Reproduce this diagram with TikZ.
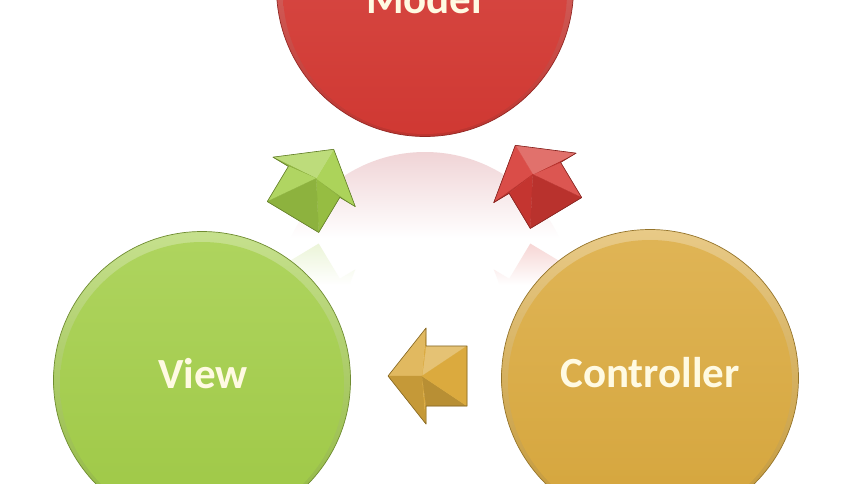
\documentclass[tikz,border=0pt]{standalone}
\usepackage{fontspec}
\setmainfont{Carlito}
\usetikzlibrary{calc}
\definecolor{mred}{RGB}{214,58,52}
\definecolor{mgreen}{RGB}{163,206,72}
\definecolor{mgold}{RGB}{219,170,62}
\definecolor{mtext}{RGB}{255,250,226}
\definecolor{mpink}{RGB}{240,212,214}

\newcommand\arrowoutline{(0,30) -- (41,30) -- (41,48) -- (79,0) -- (41,-48) -- (41,-30) -- (0,-30) -- cycle}

\newcommand\bevarrow[4]{%
 \begin{scope}[shift={(#1,#2)}, rotate=#3]
  \foreach \ax/\ay/\bx/\by/\al in {0/30/41/30/90, 41/30/41/48/180, 41/48/79/0/38.4, 79/0/41/-48/-38.4, 41/-48/41/-30/180, 41/-30/0/-30/-90, 0/-30/0/30/180}{
    \pgfmathsetmacro\bb{cos(#3-\al-90)}
    \pgfmathsetmacro\pw{100-28*max(\bb,0)}
    \pgfmathsetmacro\pk{100-16*max(-\bb,0)}
    \filldraw[fill=#4!\pw!white!\pk!black, draw=#4!\pw!white!\pk!black, line width=0.3pt, line join=round] (45,0) -- (\ax,\ay) -- (\bx,\by) -- cycle;
  }
  \draw[#4!60!black, line width=0.6pt, line join=round] \arrowoutline;
 \end{scope}}

\newcommand\reflarrow[4]{%
 \begin{scope}
  \begin{scope}[shift={(#1,#2)}, rotate=#3]
   \clip \arrowoutline;
   \begin{scope}[reset cm]
    \shade[top color=#4!24!white, bottom color=white] (200,238) rectangle (660,285);
   \end{scope}
  \end{scope}
 \end{scope}}

\tikzset{
  ball/.style={circle, minimum size=297pt, inner sep=0pt, draw=#1!68!black, line width=0.7pt,
    path picture={
      \shade[top color=#1!62!white, bottom color=#1!88!black] (path picture bounding box.center) circle (150pt);
      \shade[top color=#1!88!white, bottom color=#1!97!black] ($(path picture bounding box.center)+(0,4)$) circle (142pt);
    }},
  lbl/.style={text=mtext, inner sep=0pt, font=\fontsize{43}{50}\selectfont\bfseries}
}

\begin{document}
\begin{tikzpicture}[x=1pt, y=-1pt]
  \useasboundingbox (0,0) rectangle (864,483);
  \fill[white] (0,0) rectangle (864,483);
  \clip (0,0) rectangle (864,483);

  % reflection of the Model circle
  \begin{scope}
    \clip (425,300) circle (148pt);
    \shade[top color=mpink, bottom color=white] (260,152) rectangle (590,238);
  \end{scope}

  % reflections of the two upper arrows
  \reflarrow{293}{259}{-59}{mgreen}
  \reflarrow{556}{259}{-121}{mred}

  % circles
  \node[ball=mgreen] (view) at (202,380) {};
  \node[ball=mgold] (controller) at (650,378) {};

  % arrows
  \bevarrow{293}{217}{59}{mgreen}
  \bevarrow{556}{213}{121}{mred}
  \bevarrow{467}{376}{180}{mgold}

  \node[ball=mred] (model) at (425,-12) {};

  % labels
  \node[lbl, anchor=base] (modeltxt) at (424,13) {Model};
  \node[lbl, anchor=base] (viewtxt) at (203,388) {View};
  \node[lbl, anchor=base] (controllertxt) at (650,387) {Controller};
\end{tikzpicture}
\end{document}
